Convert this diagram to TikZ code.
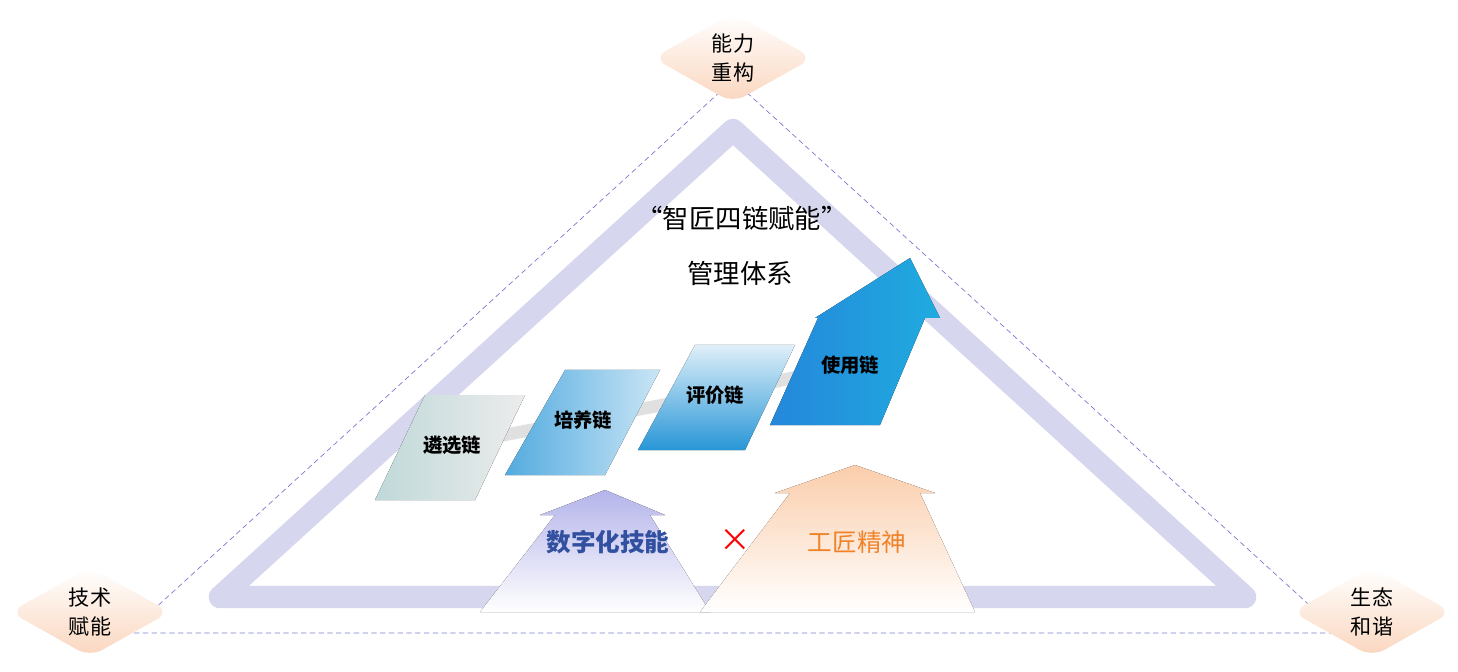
\documentclass[tikz,border=0pt]{standalone}
\usepackage{fontspec}
\setmainfont{Noto Sans CJK SC}
\usetikzlibrary{positioning, shapes.geometric, arrows.meta}
\definecolor{lav}{RGB}{200,200,232}
\definecolor{peach}{RGB}{250,214,190}
\definecolor{chainblue}{RGB}{40,150,215}
\definecolor{skillblue}{RGB}{50,80,160}
\definecolor{craftorange}{RGB}{240,130,40}
\tikzset{
  corner/.style = {diamond, aspect=1.8, minimum width=3.2cm, minimum height=1.8cm,
    inner sep=0pt, rounded corners=8pt, top color=white, bottom color=peach,
    align=center, font=\fontsize{12}{16}\selectfont},
  chainlabel/.style = {font=\fontsize{11}{13}\selectfont\bfseries},
  link/.style = {line width=0.25cm, color=black!12},
}
\begin{document}
\begin{tikzpicture}[x=0.02cm, y=-0.02cm]
    \useasboundingbox (0,0) rectangle (1458,672);
    % frame
    \draw [line width=0.45cm, lav!75, line join=round] (733,130) -- (220,597) -- (1245,597) -- cycle;
    \draw [densely dashed, color=blue!50!gray!70, thin] (733,80) -- (128,633) -- (1340,633) -- cycle;
    % corners
    \node [corner] (top) at (733,58) {能力\\重构};
    \node [corner] (left) at (90,612) {技术\\赋能};
    \node [corner] (right) at (1372,612) {生态\\和谐};
    % title
    \node [font=\fontsize{15}{18}\selectfont] (title) at (742,218) {“智匠四链赋能”};
    \node [font=\fontsize{15}{18}\selectfont] (sub) at (740,273) {管理体系};
    % up arrows
    \fill [top color=lav!90!blue, bottom color=white]
        (480,612) -- (555,515) -- (540,515) -- (605,490) -- (665,515) -- (650,515) -- (710,612) -- cycle;
    \fill [top color=peach!90!orange, bottom color=white]
        (700,612) -- (790,493) -- (775,493) -- (855,465) -- (935,493) -- (920,493) -- (975,612) -- cycle;
    % chains
    \node [chainlabel] (sel) at (452,445) {遴选链};
    \node [chainlabel] (cul) at (583,420) {培养链};
    \node [chainlabel] (eva) at (715,395) {评价链};
    \node [chainlabel] (use) at (850,365) {使用链};
    \draw [link] (sel) -- (cul);
    \draw [link] (cul) -- (eva);
    \draw [link] (eva) -- (use);
    \fill [left color=gray!35!teal!30, right color=gray!15] (375,500) -- (475,500) -- (525,395) -- (425,395) -- cycle;
    \fill [left color=chainblue!80, right color=chainblue!25] (505,475) -- (605,475) -- (660,370) -- (565,370) -- cycle;
    \fill [bottom color=chainblue, top color=chainblue!15] (638,450) -- (745,450) -- (795,345) -- (695,345) -- cycle;
    \fill [left color=chainblue!90!blue, right color=chainblue!80!cyan]
        (770,425) -- (880,425) -- (925,318) -- (940,318) -- (910,258) -- (815,318) -- (818,318) -- cycle;
    \node [chainlabel] at (sel) {遴选链};
    \node [chainlabel] at (cul) {培养链};
    \node [chainlabel] at (eva) {评价链};
    \node [chainlabel] at (use) {使用链};
    % bottom texts
    \node [font=\fontsize{14}{16}\selectfont\bfseries, skillblue] (skill) at (608,542) {数字化技能};
    \node [font=\fontsize{18}{18}\selectfont, red] (times) at (735,540) {×};
    \node [font=\fontsize{14}{16}\selectfont, craftorange] (craft) at (857,542) {工匠精神};
\end{tikzpicture}
\end{document}
